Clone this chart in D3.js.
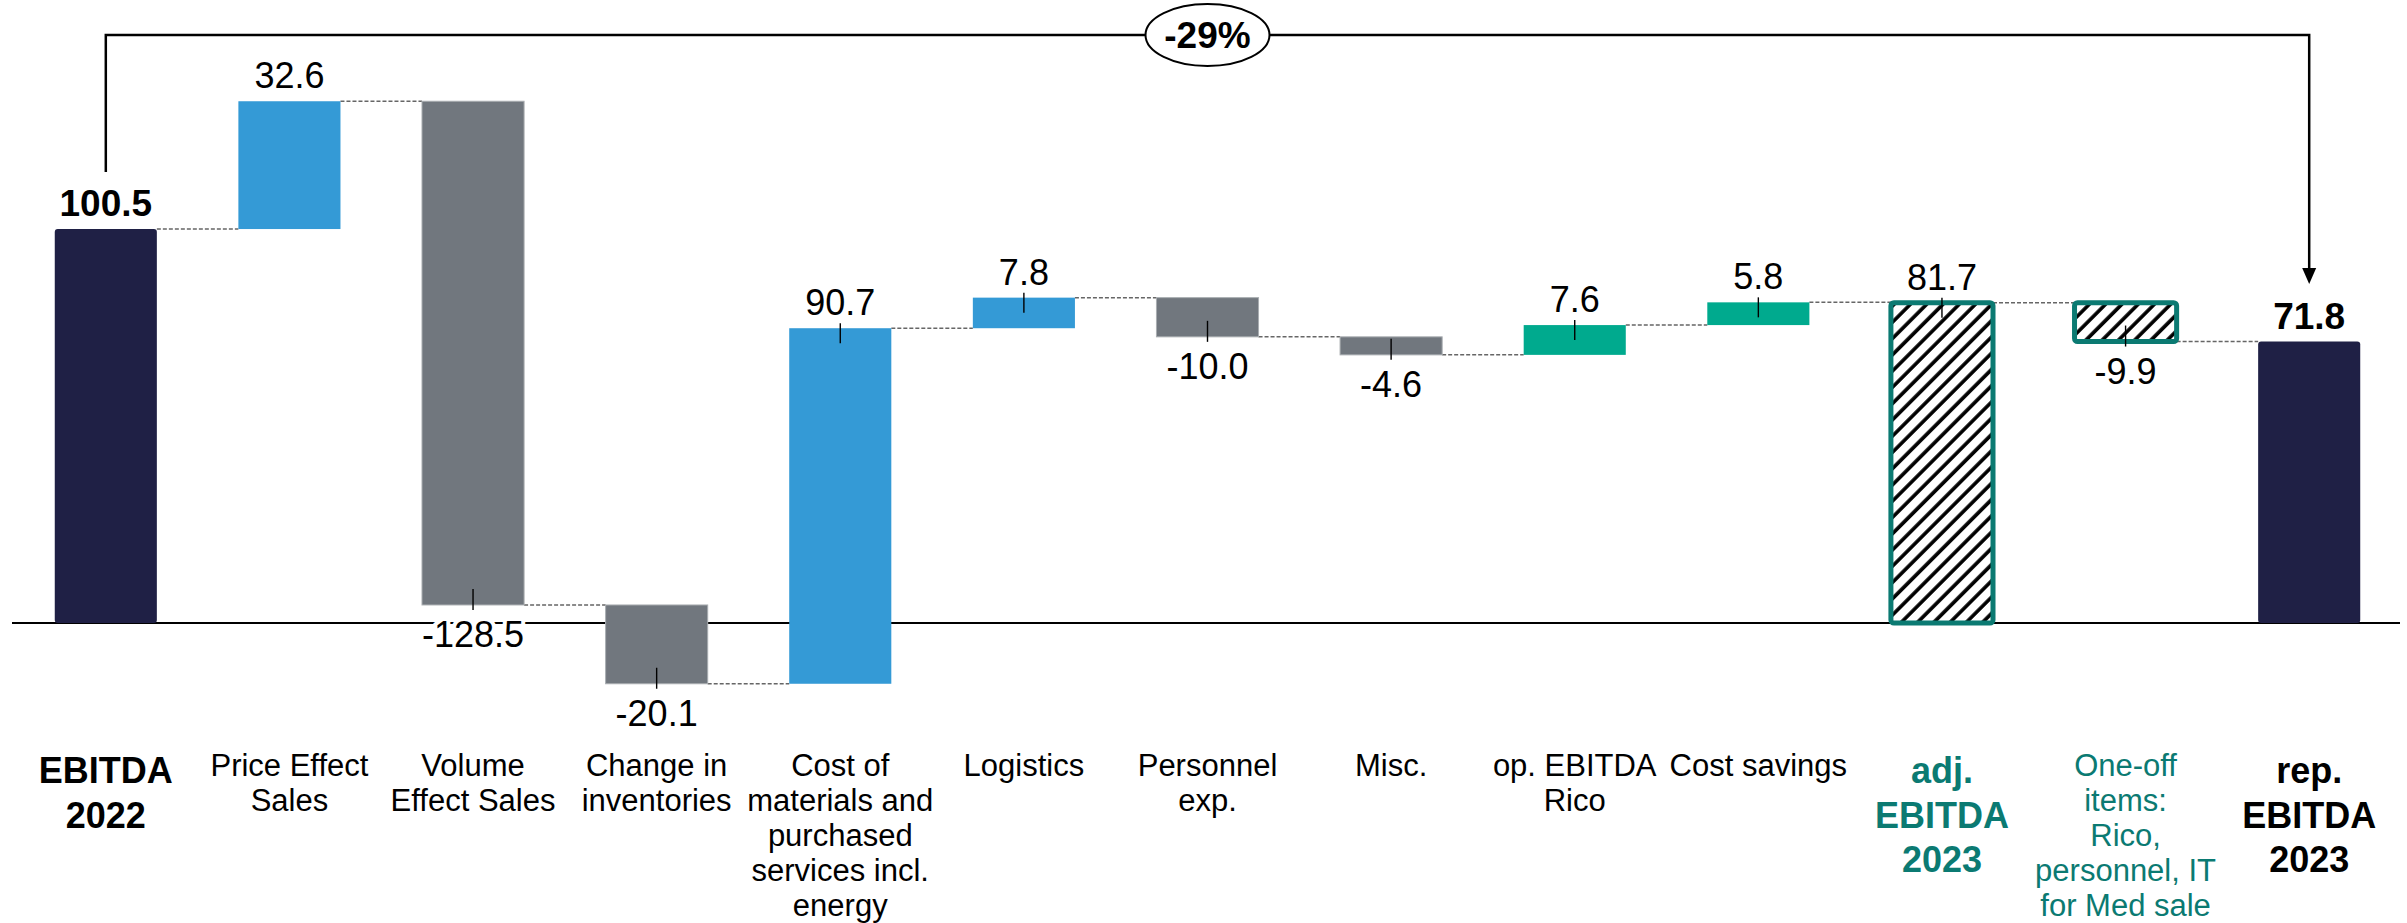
<!DOCTYPE html>
<html>
<head>
<meta charset="utf-8">
<script src="https://cdn.jsdelivr.net/npm/d3@7"></script>
<style>
  body { margin: 0; background: #fff; }
  svg text { font-family: "Liberation Sans", Arial, sans-serif; }
</style>
</head>
<body>
<svg id="chart" width="2407" height="923"></svg>
<script>
// bridge data
const categories = ["EBITDA 2022", "Price Effect Sales", "Volume Effect Sales", "Change in inventories",
  "Cost of materials", "Logistics", "Personnel exp.", "Misc.", "op. EBITDA Rico", "Cost savings",
  "adj. EBITDA 2023", "One-off items", "rep. EBITDA 2023"];
const values = [100.5, 32.6, -128.5, -20.1, 90.7, 7.8, -10.0, -4.6, 7.6, 5.8, 81.7, -9.9, 71.8];
const kinds = ["total", "up", "down", "down", "up", "up", "down", "down", "op", "op", "adj", "adjDelta", "total"];
const labelLines = [
  ["EBITDA", "2022"],
  ["Price Effect", "Sales"],
  ["Volume", "Effect Sales"],
  ["Change in", "inventories"],
  ["Cost of", "materials and", "purchased", "services incl.", "energy"],
  ["Logistics"],
  ["Personnel", "exp."],
  ["Misc."],
  ["op. EBITDA", "Rico"],
  ["Cost savings"],
  ["adj.", "EBITDA", "2023"],
  ["One-off", "items:", "Rico,", "personnel, IT", "for Med sale"],
  ["rep.", "EBITDA", "2023"]
];
const changeLabel = "-29%";

const colors = {
  total: "#1f2045",
  up: "#349ad6",
  down: "#71777e",
  op: "#00aa8e",
  teal: "#0b7a72"
};

const svg = d3.select("#chart");

// plain hyphen for negatives, like the original slide
const fmt = d3.formatLocale({ decimal: ".", thousands: ",", grouping: [3], currency: ["", ""], minus: "-" }).format(".1f");

const x = d3.scaleBand()
  .domain(categories)
  .range([14, 2401])
  .paddingInner(0.444)
  .paddingOuter(0.222);

const y = d3.scaleLinear().domain([0, 100]).range([623, 231]);

// work out start / end of each bar
let running = 0;
const bars = values.map((v, i) => {
  const kind = kinds[i];
  let start, end;
  if (kind === "total" || kind === "adj") {
    start = 0;
    end = v;
  } else {
    start = running;
    end = running + v;
  }
  running = end;
  return { cat: categories[i], value: v, kind: kind, start: start, end: end, i: i };
});

// hatch pattern for adjusted bars
const defs = svg.append("defs");
defs.append("pattern")
  .attr("id", "hatch")
  .attr("patternUnits", "userSpaceOnUse")
  .attr("width", 11.5)
  .attr("height", 11.5)
  .attr("patternTransform", "rotate(45)")
  .call(p => {
    p.append("rect").attr("width", 11.5).attr("height", 11.5).attr("fill", "#fff");
    p.append("line").attr("x1", 2).attr("x2", 2).attr("y1", 0).attr("y2", 11.5)
      .attr("stroke", "#000").attr("stroke-width", 3.6);
  });

// connectors between bars
const connectors = bars.slice(0, -1).map((b, i) => ({ from: b, to: bars[i + 1], level: b.end }));
svg.append("g")
  .selectAll("line")
  .data(connectors)
  .join("line")
  .attr("x1", d => x(d.from.cat) + x.bandwidth())
  .attr("x2", d => x(d.to.cat))
  .attr("y1", d => y(d.level))
  .attr("y2", d => y(d.level))
  .attr("stroke", "#666")
  .attr("stroke-width", 1.5)
  .attr("stroke-dasharray", "4,2");

// zero line
svg.append("line")
  .attr("x1", 12).attr("x2", 2400)
  .attr("y1", y(0)).attr("y2", y(0))
  .attr("stroke", "#000").attr("stroke-width", 2.2);

// bars
const barG = svg.append("g");
barG.selectAll("rect")
  .data(bars)
  .join("rect")
  .attr("x", d => x(d.cat))
  .attr("width", x.bandwidth())
  .attr("y", d => y(Math.max(d.start, d.end)))
  .attr("height", d => Math.abs(y(d.start) - y(d.end)))
  .attr("rx", d => (d.kind === "total" || d.kind === "adj" || d.kind === "adjDelta") ? 3 : 0)
  .attr("fill", d => {
    if (d.kind === "adj" || d.kind === "adjDelta") return "url(#hatch)";
    return colors[d.kind];
  })
  .attr("stroke", d => {
    if (d.kind === "adj" || d.kind === "adjDelta") return colors.teal;
    if (d.kind === "down") return "#a9adb1";
    return "none";
  })
  .attr("stroke-width", d => (d.kind === "adj" || d.kind === "adjDelta") ? 5 : 1);

// small leader ticks on the delta bars
const withTick = bars.filter(d => d.kind !== "total" && d.i !== 1);
svg.append("g")
  .selectAll("line")
  .data(withTick)
  .join("line")
  .attr("x1", d => x(d.cat) + x.bandwidth() / 2)
  .attr("x2", d => x(d.cat) + x.bandwidth() / 2)
  .attr("y1", d => d.value >= 0 ? y(Math.max(d.start, d.end)) - 5 : y(Math.min(d.start, d.end)) - 16)
  .attr("y2", d => d.value >= 0 ? y(Math.max(d.start, d.end)) + 15 : y(Math.min(d.start, d.end)) + 5)
  .attr("stroke", "#000")
  .attr("stroke-width", 1.4);

// value labels
svg.append("g")
  .selectAll("text")
  .data(bars)
  .join("text")
  .attr("x", d => x(d.cat) + x.bandwidth() / 2)
  .attr("y", d => d.value >= 0 ? y(Math.max(d.start, d.end)) - 13 : y(Math.min(d.start, d.end)) + 42)
  .attr("text-anchor", "middle")
  .attr("font-size", d => d.kind === "total" ? 37 : 36)
  .attr("font-weight", d => d.kind === "total" ? "bold" : "normal")
  .attr("fill", "#000")
  .attr("stroke", "#fff")
  .attr("stroke-width", 8)
  .attr("paint-order", "stroke")
  .text(d => fmt(d.value));

// category labels
const catG = svg.append("g")
  .selectAll("text")
  .data(bars)
  .join("text")
  .attr("text-anchor", "middle")
  .attr("fill", d => (d.kind === "adj" || d.kind === "adjDelta") ? colors.teal : "#000")
  .attr("font-size", d => (d.kind === "total" || d.kind === "adj") ? 36 : 31)
  .attr("font-weight", d => (d.kind === "total" || d.kind === "adj") ? "bold" : "normal");

catG.selectAll("tspan")
  .data(d => labelLines[d.i].map((t, j) => ({ t: t, j: j, d: d })))
  .join("tspan")
  .attr("x", o => x(o.d.cat) + x.bandwidth() / 2)
  .attr("y", o => {
    const big = o.d.kind === "total" || o.d.kind === "adj";
    return big ? 783 + o.j * 44.5 : 776 + o.j * 35;
  })
  .text(o => o.t);

// bracket from 2022 to 2023 with change bubble
const xFirst = x(categories[0]) + x.bandwidth() / 2;
const xLast = x(categories[categories.length - 1]) + x.bandwidth() / 2;
const bracketY = 35;
svg.append("path")
  .attr("d", `M${xFirst},172 V${bracketY} H${xLast} V270`)
  .attr("fill", "none")
  .attr("stroke", "#000")
  .attr("stroke-width", 2.5);
svg.append("path")
  .attr("d", `M${xLast - 7},268 L${xLast + 7},268 L${xLast},284 Z`)
  .attr("fill", "#000");

const midX = (xFirst + xLast) / 2;
svg.append("ellipse")
  .attr("cx", midX).attr("cy", bracketY)
  .attr("rx", 62).attr("ry", 31)
  .attr("fill", "#fff")
  .attr("stroke", "#000")
  .attr("stroke-width", 2);
svg.append("text")
  .attr("x", midX).attr("y", bracketY + 13)
  .attr("text-anchor", "middle")
  .attr("font-size", 37)
  .attr("font-weight", "bold")
  .text(changeLabel);
</script>
</body>
</html>
